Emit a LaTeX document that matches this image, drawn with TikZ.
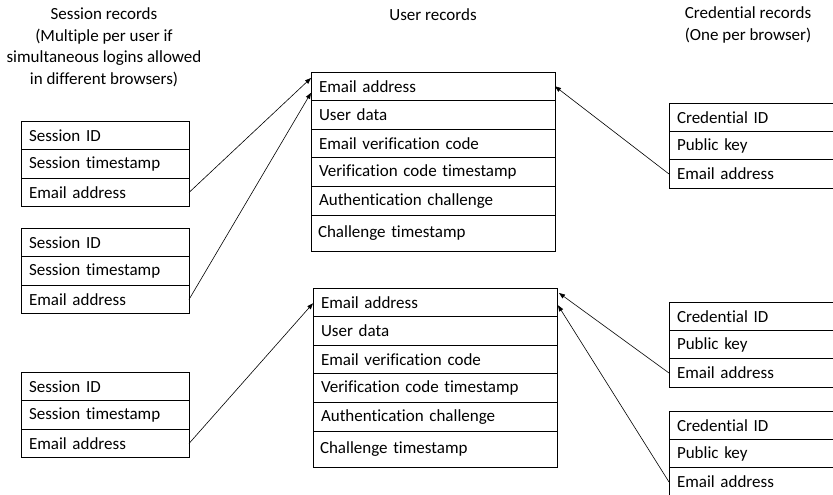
\documentclass[tikz,border=0pt]{standalone}
\usepackage{fontspec}
\setmainfont{Carlito}[Ligatures=NoCommon]
\usetikzlibrary{arrows.meta,positioning}

\begin{document}
\begin{tikzpicture}[x=1pt,y=-1pt,font=\fontsize{17pt}{21.5pt}\selectfont,
  cell/.style={draw,line width=0.9pt,outer sep=0pt,anchor=north west,align=left,
    inner xsep=8pt,inner ysep=0pt,minimum height=#1},
  cell/.default=28.6pt,
  head/.style={align=center},
  a/.style={-{Triangle[length=6pt,width=4.5pt]},line width=0.6pt}]
  \useasboundingbox (0,0) rectangle (833,495);
  \clip (0,0) rectangle (833,495);
  % headers
  \node[head] (sh) at (104,47.5) {Session records\\(Multiple per user if\\simultaneous logins allowed\\in different browsers)};
  \node[head] (uh) at (433,15) {User records};
  \node[head] (ch) at (748,25) {Credential records\\(One per browser)};
  % session records
  \foreach \n/\y in {s1/121,s2/228,s3/372} {
    \node[cell,text width=152pt] (\n-1) at (21,\y) {Session ID};
    \node[cell,text width=152pt,below=0pt of \n-1] (\n-2) {Session timestamp};
    \node[cell,text width=152pt,below=0pt of \n-2] (\n-3) {Email address};
  }
  % user records
  \foreach \n/\x/\y in {u1/311/72,u2/313/288} {
    \node[cell,text width=228pt] (\n-1) at (\x,\y) {Email address};
    \node[cell,text width=228pt,below=0pt of \n-1] (\n-2) {User data};
    \node[cell,text width=228pt,below=0pt of \n-2] (\n-3) {Email verification code};
    \node[cell,text width=228pt,below=0pt of \n-3] (\n-4) {Verification code timestamp};
    \node[cell,text width=228pt,below=0pt of \n-4] (\n-5) {Authentication challenge};
    \node[cell=36pt,text width=230pt,inner xsep=7pt,below=0pt of \n-5] (\n-6) {Challenge timestamp};
  }
  % credential records
  \foreach \n/\y in {c1/103,c2/302,c3/411} {
    \node[cell=28.4pt,text width=170pt] (\n-1) at (669,\y) {Credential ID};
    \node[cell=28.4pt,text width=170pt,below=0pt of \n-1] (\n-2) {Public key};
    \node[cell=28.4pt,text width=170pt,below=0pt of \n-2] (\n-3) {Email address};
  }
  % links
  \draw[a] (s1-3.east) -- ([yshift=-6pt]u1-1.north west);
  \draw[a] (s2-3.east) -- ([yshift=-6.5pt]u1-1.west);
  \draw[a] (s3-3.east) -- ([yshift=-1pt]u2-1.west);
  \draw[a] (c1-3.west) -- (u1-1.east);
  \draw[a] (c2-3.west) -- ([xshift=2pt,yshift=-5pt]u2-1.north east);
  \draw[a] (c3-3.west) -- ([xshift=1pt,yshift=-3pt]u2-1.east);
\end{tikzpicture}
\end{document}
